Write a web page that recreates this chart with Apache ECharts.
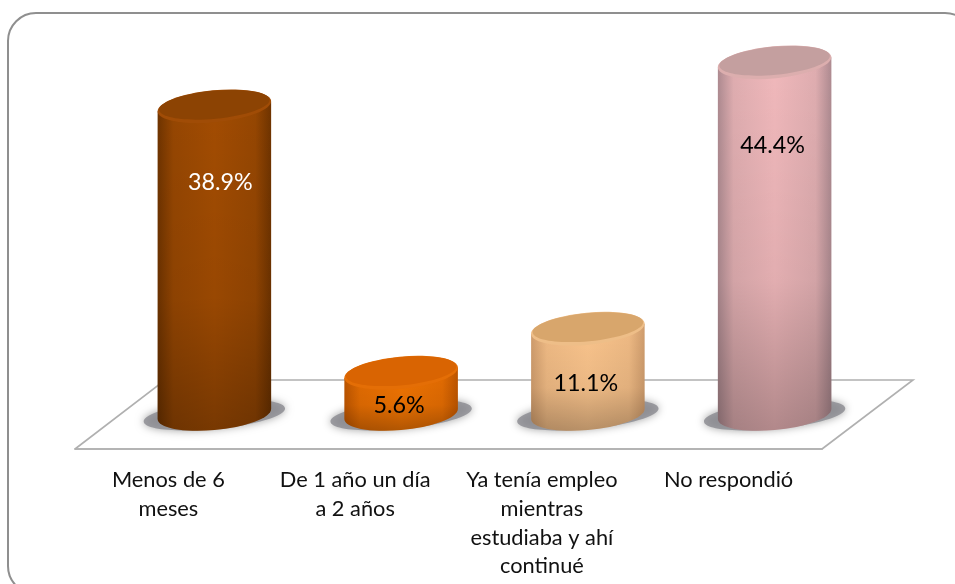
<!DOCTYPE html>
<html><head><meta charset="utf-8">
<style>html,body{margin:0;padding:0;background:#fff}#c{width:955px;height:584px}</style>
<script src="https://cdn.jsdelivr.net/npm/echarts@6/dist/echarts.min.js"></script>
</head><body><div id="c"></div>
<script>
const categories = ['Menos de 6\nmeses', 'De 1 año un día\na 2 años', 'Ya tenía empleo\nmientras\nestudiaba y ahí\ncontinué', 'No respondió'];
const values = [38.9, 5.6, 11.1, 44.4];
const labelColors = ['#ffffff', '#000000', '#000000', '#000000'];
// [edge, middle, top face, rim]
const palette = [
  ['#6e3300', '#a24c02', '#8c4303', '#a04c06'],
  ['#bd5500', '#f07402', '#d96402', '#e46e06'],
  ['#cf9c6c', '#fac48c', '#d8a66c', '#eebe88'],
  ['#ad8a90', '#f0b8bb', '#c49f9f', '#dcaeae']
];
const labelNudge = [[6, 76], [-2, 33], [-2, 55], [-2, 83]];

const DX = 46, DY = -31.5, RX = 57, RY = 16, TILT = 5.5 * Math.PI / 180, BASE = -3.5;
const W = Math.sqrt(RX*RX*Math.cos(TILT)**2 + RY*RY*Math.sin(TILT)**2);
const D = (RX*RX - RY*RY) * Math.sin(TILT) * Math.cos(TILT) / W;

function renderCylinder(params, api) {
  const i = params.dataIndex;
  const top = api.coord([api.value(0), api.value(1)]);
  const zero = api.coord([api.value(0), 0]);
  const cx = top[0] + DX, ty = top[1] + DY, by = zero[1] + DY + BASE;
  const p = palette[i];
  const d = `M${cx-W} ${ty+D}L${cx-W} ${by+D}A${RX} ${RY} ${-TILT*180/Math.PI} 0 0 ${cx+W} ${by-D}L${cx+W} ${ty-D}Z`;
  const ell = (y, rx, ry, style) => ({
    type: 'ellipse', shape: {cx: cx, cy: y, rx: rx, ry: ry},
    rotation: TILT, originX: cx, originY: y, style: style
  });
  const near = echarts.color.lerp(.75, [p[0], p[1]]);
  const sideGrad = {type: 'linear', x: 0, y: 0, x2: 1, y2: 0, colorStops: [
    {offset: 0, color: p[0]}, {offset: .14, color: near}, {offset: .5, color: p[1]}, {offset: .86, color: near}, {offset: 1, color: p[0]}]};
  return {type: 'group', children: [
    ell(by + 1, 71, 14, {fill: '#8a8a90', shadowBlur: 9, shadowColor: 'rgba(110,110,110,.8)', opacity: .8}),
    {type: 'path', shape: {pathData: d}, style: {fill: sideGrad}},
    {type: 'path', shape: {pathData: d}, style: {fill: {type: 'linear', x: 0, y: 0, x2: 0, y2: 1, colorStops: [
      {offset: 0, color: 'rgba(0,0,0,0)'}, {offset: .6, color: 'rgba(0,0,0,.06)'}, {offset: 1, color: 'rgba(0,0,0,.26)'}]}}},
    ell(ty, RX, RY, {fill: p[3]}),
    ell(ty - 1.5, RX - 1.5, RY - 2, {fill: p[2]}),
    {type: 'text', x: cx + labelNudge[i][0], y: ty + labelNudge[i][1], style: {
      text: values[i].toFixed(1) + '%', fill: labelColors[i], font: '23.3px Lato, sans-serif',
      align: 'center', verticalAlign: 'middle'}}
  ]};
}

const chart = echarts.init(document.getElementById('c'), null, {renderer: 'canvas'});
chart.setOption({
  animation: false,
  backgroundColor: '#ffffff',
  grid: {left: 75, width: 747, top: 49, height: 400},
  xAxis: {type: 'category', data: categories, axisTick: {show: false},
    axisLine: {lineStyle: {color: '#b4b4b4', width: 2}},
    axisLabel: {interval: 0, color: '#111', fontFamily: 'Lato, sans-serif', fontSize: 21.8, lineHeight: 28.6, margin: 17, align: 'center', verticalAlign: 'top'}},
  yAxis: {type: 'value', min: 0, max: 50, show: false, splitLine: {show: false}},
  graphic: [
    {type: 'rect', z: 0, shape: {x: 8, y: 13, width: 965, height: 581, r: 28}, style: {fill: '#fff', stroke: '#8f8f8f', lineWidth: 2}},
    {type: 'polyline', z: 1, shape: {points: [[75, 449], [165, 380], [913, 380], [822, 449]]}, style: {fill: null, stroke: '#b0b0b0', lineWidth: 1.6}}
  ],
  series: [{
    type: 'custom', z: 5, coordinateSystem: 'cartesian2d', clip: false,
    encode: {x: 0, y: 1},
    data: values.map((v, i) => [i, v]),
    renderItem: renderCylinder
  }]
});
</script></body></html>
